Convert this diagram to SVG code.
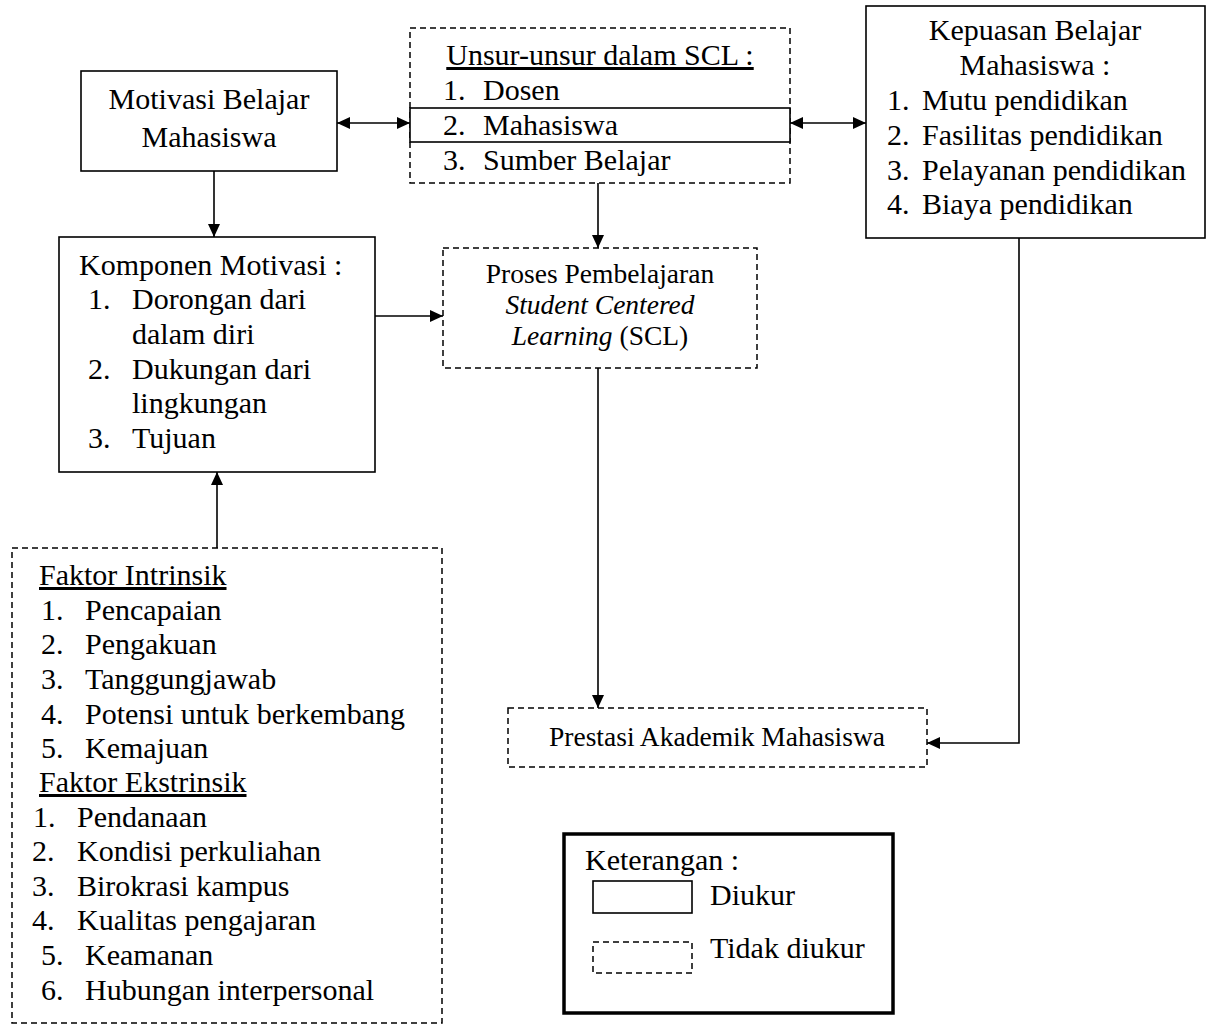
<svg xmlns="http://www.w3.org/2000/svg" width="1212" height="1025" viewBox="0 0 1212 1025">
<style>
text{font-family:"Liberation Serif","Times New Roman",serif;font-size:30px;fill:#000}
.sm{font-size:27.5px}
.c{text-anchor:middle}
.u{text-decoration:underline}
.solid{fill:#fff;stroke:#000;stroke-width:1.6}
.dash{fill:none;stroke:#000;stroke-width:1.5;stroke-dasharray:6 4}
.con{fill:none;stroke:#000;stroke-width:1.6}
</style>
<defs>
<marker id="ah" viewBox="0 0 13 12" refX="13" refY="6" markerWidth="13" markerHeight="12" markerUnits="userSpaceOnUse" orient="auto-start-reverse">
<path d="M0,0 L13,6 L0,12 z" fill="#000"/>
</marker>
</defs>
<rect width="1212" height="1025" fill="#fff"/>
<g id="connectors">
<line class="con" x1="337" y1="123" x2="410" y2="123" marker-start="url(#ah)" marker-end="url(#ah)"/>
<line class="con" x1="790" y1="123" x2="866" y2="123" marker-start="url(#ah)" marker-end="url(#ah)"/>
<line class="con" x1="214" y1="171" x2="214" y2="237" marker-end="url(#ah)"/>
<line class="con" x1="598" y1="183" x2="598" y2="248" marker-end="url(#ah)"/>
<line class="con" x1="375" y1="316" x2="443" y2="316" marker-end="url(#ah)"/>
<line class="con" x1="598" y1="368" x2="598" y2="708" marker-end="url(#ah)"/>
<path class="con" d="M1019,238 V743 H927" marker-end="url(#ah)"/>
<line class="con" x1="217" y1="548" x2="217" y2="472" marker-end="url(#ah)"/>
</g>
<g id="motivasi">
<rect class="solid" x="81" y="71" width="256" height="100"/>
<text class="c" x="209" y="109">Motivasi Belajar</text>
<text class="c" x="209" y="147">Mahasiswa</text>
</g>
<g id="unsur">
<rect class="dash" x="410" y="28" width="380" height="155"/>
<rect class="solid" x="410" y="108" width="380" height="34"/>
<text class="c u" x="600" y="65">Unsur-unsur dalam SCL :</text>
<text x="443" y="100">1.</text><text x="483" y="100">Dosen</text>
<text x="443" y="135">2.</text><text x="483" y="135">Mahasiswa</text>
<text x="443" y="170">3.</text><text x="483" y="170">Sumber Belajar</text>
</g>
<g id="kepuasan">
<rect class="solid" x="866" y="6" width="339" height="232"/>
<text class="c" x="1035" y="40">Kepuasan Belajar</text>
<text class="c" x="1035" y="75">Mahasiswa :</text>
<text x="887" y="110">1.</text><text x="922" y="110">Mutu pendidikan</text>
<text x="887" y="145">2.</text><text x="922" y="145">Fasilitas pendidikan</text>
<text x="887" y="180">3.</text><text x="922" y="180">Pelayanan pendidikan</text>
<text x="887" y="214">4.</text><text x="922" y="214">Biaya pendidikan</text>
</g>
<g id="komponen">
<rect class="solid" x="59" y="237" width="316" height="235"/>
<text x="79" y="275">Komponen Motivasi :</text>
<text x="88" y="309">1.</text><text x="132" y="309">Dorongan dari</text>
<text x="132" y="344">dalam diri</text>
<text x="88" y="379">2.</text><text x="132" y="379">Dukungan dari</text>
<text x="132" y="413">lingkungan</text>
<text x="88" y="448">3.</text><text x="132" y="448">Tujuan</text>
</g>
<g id="proses">
<rect class="dash" x="443" y="248" width="314" height="120"/>
<text class="c sm" x="600" y="283">Proses Pembelajaran</text>
<text class="c sm" x="600" y="314" font-style="italic">Student Centered</text>
<text class="c sm" x="600" y="345"><tspan font-style="italic">Learning</tspan> (SCL)</text>
</g>
<g id="prestasi">
<rect class="dash" x="508" y="708" width="419" height="59"/>
<text class="c sm" x="717" y="746">Prestasi Akademik Mahasiswa</text>
</g>
<g id="faktor">
<rect class="dash" x="12" y="548" width="430" height="475"/>
<text class="u" x="39" y="585">Faktor Intrinsik</text>
<text x="41" y="620">1.</text><text x="85" y="620">Pencapaian</text>
<text x="41" y="654">2.</text><text x="85" y="654">Pengakuan</text>
<text x="41" y="689">3.</text><text x="85" y="689">Tanggungjawab</text>
<text x="41" y="724">4.</text><text x="85" y="724">Potensi untuk berkembang</text>
<text x="41" y="758">5.</text><text x="85" y="758">Kemajuan</text>
<text class="u" x="39" y="792">Faktor Ekstrinsik</text>
<text x="33" y="827">1.</text><text x="77" y="827">Pendanaan</text>
<text x="32" y="861">2.</text><text x="77" y="861">Kondisi perkuliahan</text>
<text x="32" y="896">3.</text><text x="77" y="896">Birokrasi kampus</text>
<text x="32" y="930">4.</text><text x="77" y="930">Kualitas pengajaran</text>
<text x="41" y="965">5.</text><text x="85" y="965">Keamanan</text>
<text x="41" y="1000">6.</text><text x="85" y="1000">Hubungan interpersonal</text>
</g>
<g id="legend">
<rect x="564" y="834" width="329" height="179" fill="#fff" stroke="#000" stroke-width="3.5"/>
<text x="585" y="870">Keterangan :</text>
<rect class="solid" x="593" y="881" width="99" height="32"/>
<text x="710" y="905">Diukur</text>
<rect class="dash" x="593" y="942" width="99" height="31"/>
<text x="710" y="958">Tidak diukur</text>
</g>
</svg>
